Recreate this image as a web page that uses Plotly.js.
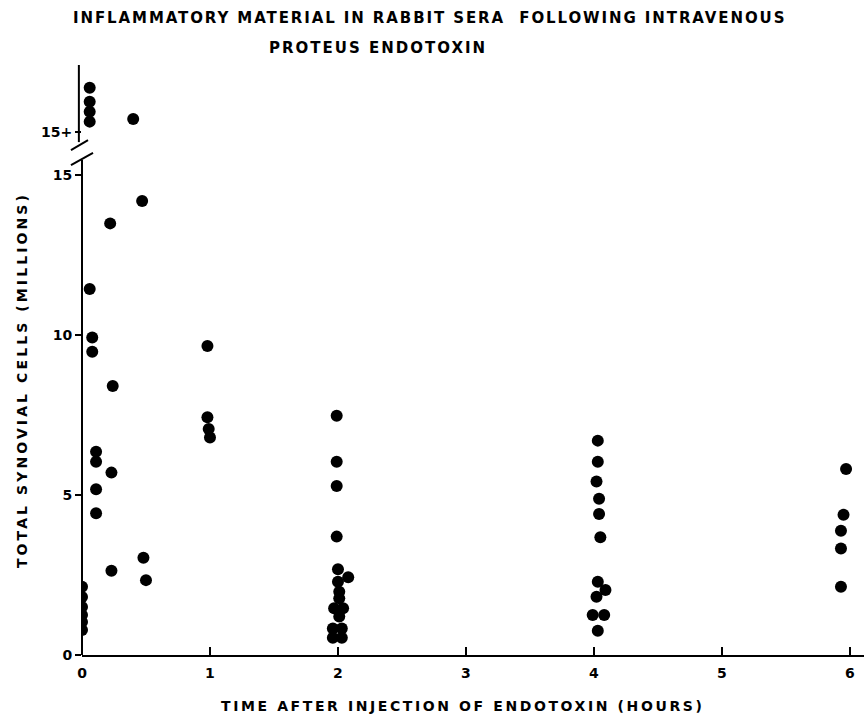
<!DOCTYPE html>
<html><head><meta charset="utf-8">
<script src="https://cdn.plot.ly/plotly-3.0.1.min.js"></script>
<style>html,body{margin:0;padding:0;background:#fff}</style>
</head><body><div id="chart" style="width:864px;height:715px"></div>
<script>
// Time after injection (hours) and total synovial cells (millions)
const hours = [0,0,0,0,0,0,
  0.06,0.08,0.08,
  0.11,0.11,0.11,0.11,
  0.24,0.23,0.23,0.22,
  0.48,0.50,0.47,
  0.98,0.98,0.99,1.00,
  1.99,1.99,1.99,1.99,2.00,2.08,2.00,2.01,2.01,1.97,2.04,2.01,1.96,2.03,1.96,2.03,
  4.03,4.03,4.02,4.04,4.04,4.05,4.03,4.09,4.02,3.99,4.08,4.03,
  5.97,5.95,5.93,5.93,5.93];
const cells = [2.13,1.81,1.50,1.25,1.03,0.78,
  11.44,9.92,9.48,
  6.35,6.04,5.18,4.43,
  8.41,5.70,2.63,13.49,
  3.04,2.34,14.19,
  9.66,7.43,7.06,6.80,
  7.48,6.04,5.28,3.70,2.68,2.43,2.29,1.98,1.77,1.46,1.46,1.20,0.83,0.83,0.54,0.54,
  6.70,6.04,5.42,4.88,4.41,3.68,2.29,2.03,1.82,1.25,1.25,0.76,
  5.81,4.38,3.88,3.33,2.13];
// Samples above 15 million, shown stacked in the "15+" band
const overHours = [0.06,0.06,0.06,0.06,0.40];
const overStack = [17.73,17.29,16.98,16.67,16.75];

const xTickVals = [0,1,2,3,4,5,6];
const xTickText = ['0','1','2','3','4','5','6'];
const yTickVals = [0,5,10,15,16.35];
const yTickText = ['0','5','10','15','15+'];

const FONT = 'DejaVu Sans';
const markerStyle = {size: 12, color: '#000', line: {width: 0}};

const traces = [
  {x: hours, y: cells, type: 'scatter', mode: 'markers', marker: markerStyle, hoverinfo: 'x+y'},
  {x: overHours, y: overStack, type: 'scatter', mode: 'markers', marker: markerStyle, hoverinfo: 'x'}
];

function sp(t, s){ return '<span style="letter-spacing:' + s + 'px">' + t + '</span>'; }

const layout = {
  width: 864, height: 715,
  margin: {l: 82, r: 0, t: 65, b: 60},
  paper_bgcolor: '#fff', plot_bgcolor: '#fff',
  showlegend: false,
  font: {family: FONT, color: '#000'},
  xaxis: {
    range: [0, 6.11], showgrid: false, zeroline: false,
    showline: true, linewidth: 2, linecolor: '#000',
    ticks: 'inside', ticklen: 8, tickwidth: 2, tickcolor: '#000',
    tickvals: xTickVals, ticktext: xTickText, ticklabelstandoff: 4,
    tickfont: {family: FONT, size: 14, weight: 'bold'}
  },
  yaxis: {
    range: [0, 18.44], showgrid: false, zeroline: false, showline: false,
    ticks: 'outside', ticklen: 6, tickwidth: 2, tickcolor: '#000',
    tickvals: yTickVals, ticktext: yTickText,
    tickfont: {family: FONT, size: 14, weight: 'bold'}
  },
  shapes: [
    {type: 'line', xref: 'paper', yref: 'y', x0: 0, x1: 0, y0: 0, y1: 15.47, line: {color: '#000', width: 2}},
    {type: 'line', xref: 'paper', yref: 'y', x0: -0.004, x1: -0.004, y0: 16.03, y1: 18.44, line: {color: '#000', width: 2}},
    {type: 'line', xref: 'paper', yref: 'y', x0: -0.0141, x1: 0.0077, y0: 15.78, y1: 16.09, line: {color: '#000', width: 2}},
    {type: 'line', xref: 'paper', yref: 'y', x0: -0.0141, x1: 0.0141, y0: 15.31, y1: 15.69, line: {color: '#000', width: 2}}
  ],
  annotations: [
    {text: sp('INFLAMMATORY MATERIAL IN RABBIT SERA  FOLLOWING INTRAVENOUS', 1.9), xref: 'paper', yref: 'paper',
     x: 0.445, y: 1.0797, xanchor: 'center', yanchor: 'middle', showarrow: false,
     font: {family: FONT, size: 15, weight: 'bold'}},
    {text: sp('PROTEUS ENDOTOXIN', 2.0), xref: 'paper', yref: 'paper',
     x: 0.3785, y: 1.0288, xanchor: 'center', yanchor: 'middle', showarrow: false,
     font: {family: FONT, size: 15, weight: 'bold'}},
    {text: sp('TOTAL SYNOVIAL CELLS (MILLIONS)', 3.1), xref: 'paper', yref: 'paper',
     x: -0.0767, y: 0.466, xanchor: 'center', yanchor: 'middle', textangle: -90, showarrow: false,
     font: {family: FONT, size: 14, weight: 'bold'}},
    {text: sp('TIME AFTER INJECTION OF ENDOTOXIN (HOURS)', 2.6), xref: 'paper', yref: 'paper',
     x: 0.486, y: -0.0864, xanchor: 'center', yanchor: 'middle', showarrow: false,
     font: {family: FONT, size: 14, weight: 'bold'}}
  ]
};

Plotly.newPlot('chart', traces, layout, {displayModeBar: false, staticPlot: true});
</script></body></html>
